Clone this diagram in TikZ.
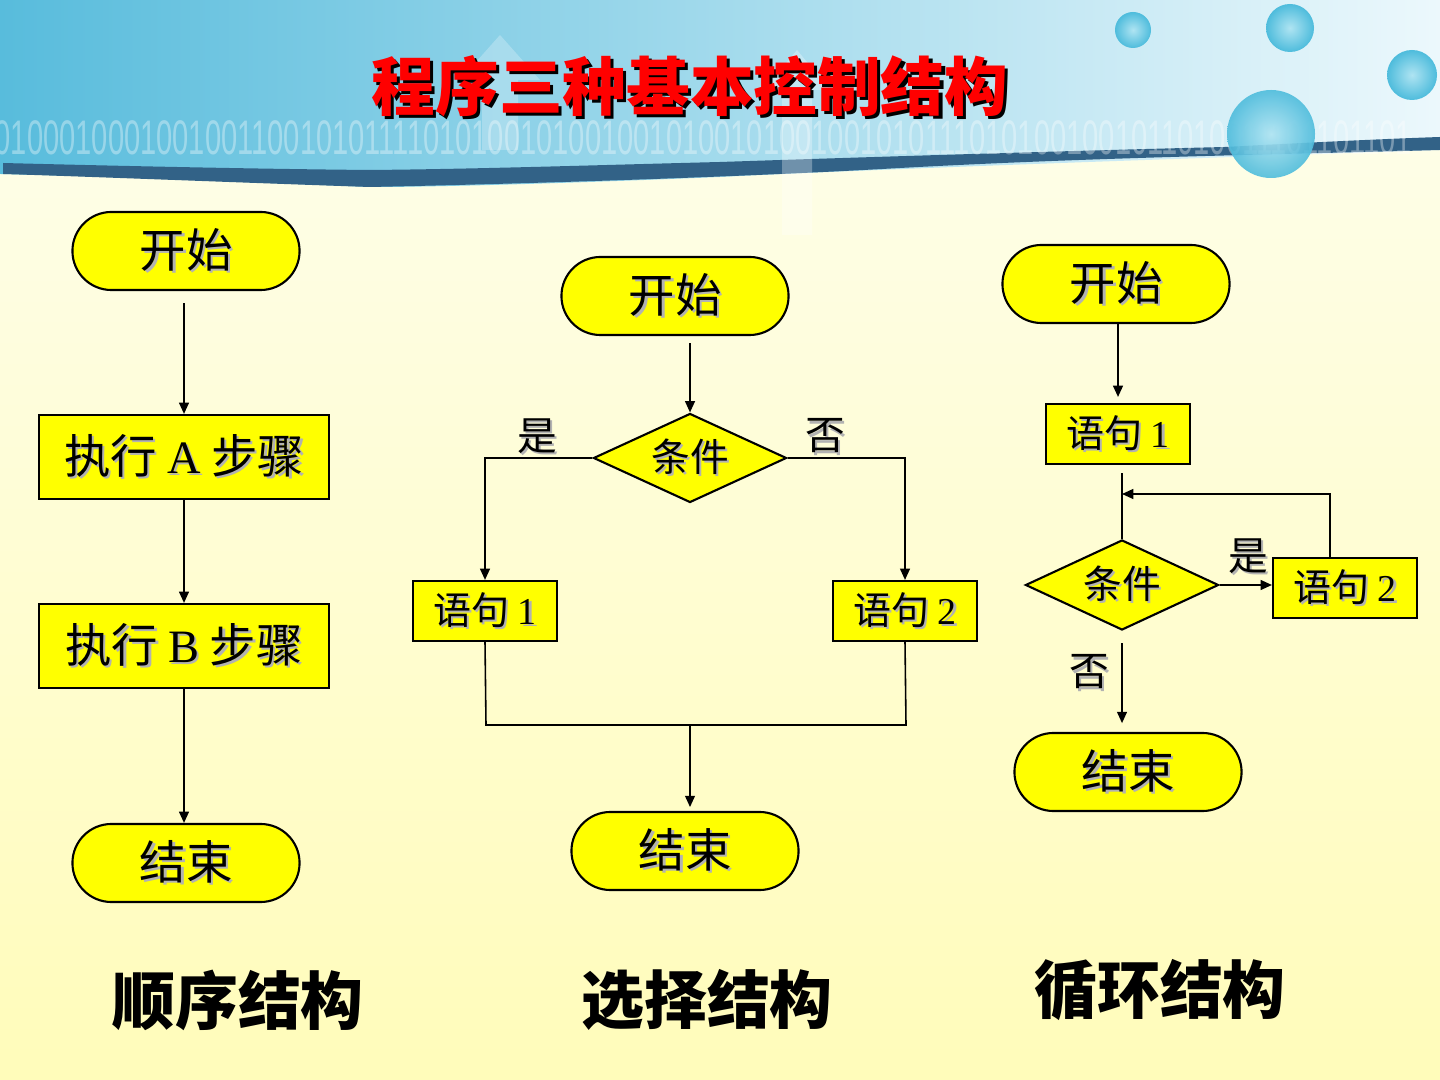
\documentclass[tikz,border=0pt]{standalone}
\usepackage{fontspec}
\usetikzlibrary{shapes.geometric,shapes.misc,arrows.meta,calc}
\newfontfamily\cjk{Noto Sans CJK SC}
\newfontfamily\tms{Liberation Serif}
\newfontfamily\binfont{Liberation Sans}
\definecolor{bgtop}{RGB}{254,254,238}
\definecolor{bgbot}{RGB}{255,252,186}
\definecolor{hdl}{RGB}{88,188,220}
\definecolor{hdr}{RGB}{236,248,252}
\definecolor{stripe}{RGB}{50,98,135}
\definecolor{bubin}{RGB}{175,228,242}
\definecolor{bubout}{RGB}{78,188,220}
\definecolor{boxy}{RGB}{255,255,0}
\definecolor{ttlred}{RGB}{255,0,0}
\newcommand\shd[1]{\leavevmode\rlap{\kern0.7pt\raisebox{-0.7pt}{\textcolor{black!30}{#1}}}#1}
\newcommand\ttlshd[1]{\leavevmode\rlap{\kern0.9pt\raisebox{-0.9pt}{\textcolor{black}{#1}}}\textcolor{ttlred}{#1}}
\tikzset{
  stad/.style={rounded rectangle, draw=black, line width=0.6pt, fill=boxy,
    minimum width=2.27cm, minimum height=0.78cm, inner sep=0pt,
    font=\cjk\fontsize{13.2pt}{15pt}\selectfont},
  bigbox/.style={rectangle, draw=black, line width=0.6pt, fill=boxy,
    minimum width=2.9cm, minimum height=0.84cm, inner sep=0pt,
    font=\cjk\fontsize{13.2pt}{15pt}\selectfont},
  smbox/.style={rectangle, draw=black, line width=0.6pt, fill=boxy,
    minimum width=1.44cm, minimum height=0.6cm, inner sep=0pt,
    font=\cjk\fontsize{10.8pt}{13pt}\selectfont},
  cond/.style={diamond, aspect=2.2, draw=black, line width=0.6pt, fill=boxy,
    minimum width=1.93cm, minimum height=0.89cm, inner sep=0pt,
    font=\cjk\fontsize{11pt}{13pt}\selectfont},
  lbl/.style={inner sep=0pt, font=\cjk\fontsize{11.3pt}{13pt}\selectfont},
  capt/.style={inner sep=0pt, font=\cjk\bfseries\fontsize{17.9pt}{20pt}\selectfont},
  conn/.style={line width=0.45pt, draw=black},
  arr/.style={conn, -{Triangle[length=3.2pt,width=2.8pt]}},
}
\begin{document}
\begin{tikzpicture}[x=0.01cm,y=-0.01cm]
\useasboundingbox (0,0) rectangle (1440,1080);
% background
\shade[top color=bgtop, bottom color=bgbot] (0,0) rectangle (1440,1080);
% header band
\shade[left color=hdl, right color=hdr] (0,0) -- (1440,0) -- (1440,150)
  .. controls (1200,158) and (900,168) .. (720,177)
  .. controls (600,182) and (450,187) .. (370,187)
  .. controls (250,182) and (100,176) .. (0,174) -- cycle;
\fill[stripe] (3,163) .. controls (120,166) and (260,169) .. (370,170)
  .. controls (480,169) and (600,165) .. (720,162)
  .. controls (900,156) and (1100,150) .. (1225,147)
  .. controls (1300,143) and (1380,139) .. (1440,137)
  -- (1440,150) .. controls (1300,154) and (1100,157) .. (900,168)
  .. controls (760,176) and (560,183) .. (370,187)
  .. controls (250,183) and (100,177) .. (3,174) -- cycle;
% faint arrows
\fill[white, opacity=0.25] (500,35) -- (540,80) -- (518,80) -- (518,150) -- (482,150) -- (482,80) -- (460,80) -- cycle;
\fill[white, opacity=0.3] (797,50) -- (830,90) -- (812,90) -- (812,235) -- (782,235) -- (782,90) -- (764,90) -- cycle;
% binary string
\node[white, opacity=0.35, inner sep=0pt, anchor=west] (bin) at (-6,138)
  {\scalebox{0.6}[1]{\binfont\fontsize{13.8pt}{15pt}\selectfont 01000100010010011001010111101010010100100101001010010010101110101001001011010011101101101}};
% bubbles
\shade[inner color=bubin, outer color=bubout] (1133,30) circle (18);
\shade[inner color=bubin, outer color=bubout] (1290,28) circle (24);
\shade[inner color=bubin, outer color=bubout] (1412,75) circle (25);
\shade[inner color=bubin, outer color=bubout, opacity=0.9] (1271,134) circle (44);
% title
\node[inner sep=0pt, font=\cjk\bfseries\fontsize{18.1pt}{20pt}\selectfont] (ttl) at (690,88) {\ttlshd{程序三种基本控制结构}};

% ---- sequence structure ----
\node[stad] (s1) at (186,251) {\shd{开始}};
\node[bigbox] (a1) at (184,457) {\shd{执行 {\tms A} 步骤}};
\node[bigbox] (a2) at (184,646) {\shd{执行 {\tms B} 步骤}};
\node[stad] (e1) at (186,863) {\shd{结束}};
\draw[arr, shorten <=3.4pt] (a1.north |- s1.south) -- (a1.north);
\draw[arr] (a1.south) -- (a2.north);
\draw[arr] (a2.south) -- (a2.south |- e1.north);
\node[capt] (c1t) at (238,1000) {顺序结构};

% ---- selection structure ----
\node[stad] (s2) at (675,296) {\shd{开始}};
\node[cond] (d2) at (690,458) {\shd{条件}};
\node[smbox] (p1) at (485,611) {\shd{语句 {\tms 1}}};
\node[smbox] (p2) at (905,611) {\shd{语句 {\tms 2}}};
\node[stad] (e2) at (685,851) {\shd{结束}};
\draw[arr, shorten <=2pt] (d2.north |- s2.south) -- (d2.north);
\draw[arr] (d2.west) -| (p1.north);
\draw[arr] (d2.east) -| (p2.north);
\coordinate (m1) at (486,725);
\coordinate (m2) at (906,725);
\coordinate (mm) at (690,725);
\draw[conn] (p1.south) -- (m1) -- (m2) -- (p2.south);
\draw[arr, shorten >=1.1pt] (mm) -- (mm |- e2.north);
\node[lbl] (y2) at (537,437) {\shd{是}};
\node[lbl] (n2) at (825,437) {\shd{否}};
\node[capt] (c2t) at (707,1000) {选择结构};

% ---- loop structure ----
\node[stad] (s3) at (1116,284) {\shd{开始}};
\node[smbox] (q1) at (1118,434) {\shd{语句 {\tms 1}}};
\node[cond, minimum height=0.9cm] (d3) at (1122,585) {\shd{条件}};
\node[smbox] (q2) at (1345,588) {\shd{语句 {\tms 2}}};
\node[stad] (e3) at (1128,772) {\shd{结束}};
\draw[arr, shorten >=1.7pt] (s3.south -| q1.north) -- (q1.north);
\draw[conn, shorten <=2.3pt] (d3.north |- q1.south) -- (d3.north);
\coordinate (lp1) at (1330,494);
\coordinate (lp2) at (d3.north |- lp1);
\draw[arr] (lp1 |- q2.north) -- (lp1) -- (lp2);
\draw[arr] (d3.east) -- (d3.east -| q2.west);
\draw[arr, shorten <=3.4pt, shorten >=2.5pt] (d3.south) -- (d3.south |- e3.north);
\node[lbl] (y3) at (1248,557) {\shd{是}};
\node[lbl] (n3) at (1089,673) {\shd{否}};
\node[capt] (c3t) at (1160,990) {循环结构};
\end{tikzpicture}
\end{document}
